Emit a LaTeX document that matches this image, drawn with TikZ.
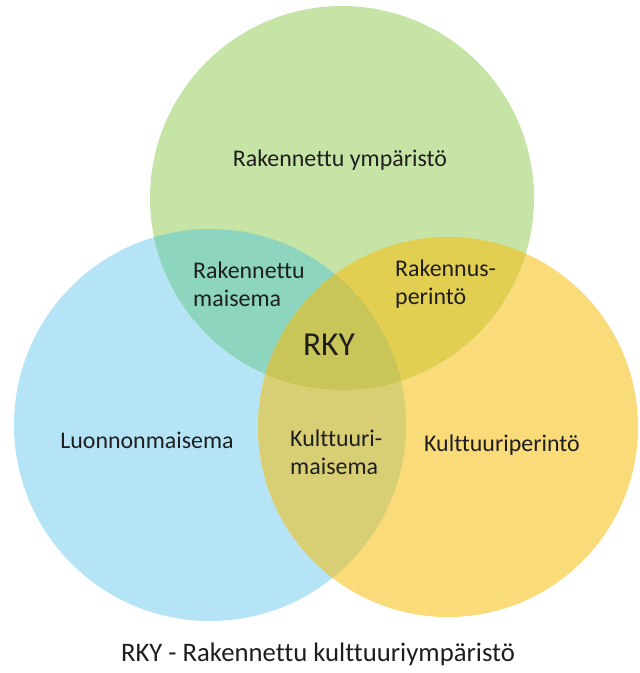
\documentclass[tikz,border=0pt]{standalone}
\usepackage{fontspec}
\setmainfont{Carlito}[Ligatures={NoCommon}]
\usepackage{tikz}
\definecolor{greenc}{HTML}{C5E4A5}
\definecolor{bluec}{HTML}{B5E4F6}
\definecolor{yellowc}{HTML}{FADB7A}
\definecolor{bgc}{HTML}{8DD5BE}
\definecolor{gyc}{HTML}{E2CE50}
\definecolor{byc}{HTML}{D8CF75}
\definecolor{allc}{HTML}{C8C658}
\definecolor{textc}{HTML}{1E1E1E}
\tikzset{
  label/.style={text=textc, inner sep=0pt, font=\fontsize{20.4}{23.9}\selectfont},
  twoline/.style={label, align=left, anchor=west},
}

\begin{document}
\begin{tikzpicture}[x=0.03cm, y=-0.03cm]
\useasboundingbox (0,0) rectangle (639,673);
\coordinate (G) at (342,198);
\coordinate (B) at (210,425);
\coordinate (Y) at (448,427);

% circles
\fill[bluec] (B) circle [radius=196];
\fill[yellowc] (Y) circle [radius=190];
\fill[greenc] (G) circle [radius=192];

% overlaps
\begin{scope}
  \clip (B) circle [radius=196];
  \fill[bgc] (G) circle [radius=192];
  \fill[byc] (Y) circle [radius=190];
\end{scope}
\begin{scope}
  \clip (G) circle [radius=192];
  \fill[gyc] (Y) circle [radius=190];
  \clip (B) circle [radius=196];
  \fill[allc] (Y) circle [radius=190];
\end{scope}

% texts
\node[label] (ymp) at (340,160) {Rakennettu ympäristö};
\node[label] (luo) at (147,440) {Luonnonmaisema};
\node[label] (kper) at (502,445) {Kulttuuriperintö};
\node[twoline] (rmai) at (193,284) {Rakennettu\\maisema};
\node[twoline] (rper) at (395,284) {Rakennus-\\perintö};
\node[twoline] (kmai) at (290,452) {Kulttuuri-\\maisema};
\node[label, font=\fontsize{28.6}{30}\selectfont] (rky) at (329,345) {RKY};
\node[label, font=\fontsize{22.8}{26}\selectfont] (cap) at (318,654) {RKY - Rakennettu kulttuuriympäristö};
\end{tikzpicture}
\end{document}
